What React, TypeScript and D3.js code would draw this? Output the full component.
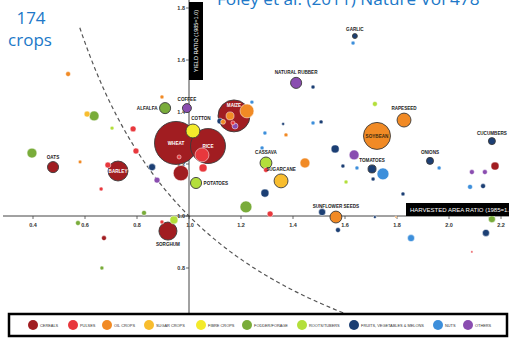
import React from "react";
import * as d3 from "d3";

type Pt = [number, number, number, string];

const categoryNames = [
  "CEREALS", "PULSES", "OIL CROPS", "SUGAR CROPS", "FIBRE CROPS",
  "FODDER/FORAGE", "ROOTS/TUBERS", "FRUITS, VEGETABLES & MELONS", "NUTS", "OTHERS",
];
const categoryColors = [
  "#a11d21", "#e8383d", "#f18a25", "#f8bd2e", "#f3ea2b",
  "#79ac3a", "#b3df3b", "#1c3f74", "#3d8fdb", "#8a4db0",
];

// [harvested area ratio, yield ratio, harvested area (Mha), label]
const cereals: Pt[] = [
  [0.95, 1.281, 210, "WHEAT"], [1.073, 1.269, 139, "RICE"], [1.173, 1.385, 116, "MAIZE"],
  [0.727, 1.173, 45, "BARLEY"], [0.919, 0.942, 37, "SORGHUM"], [0.477, 1.188, 14, "OATS"],
  [0.969, 1.165, 27, ""], [2.177, 1.192, 7.3, ""], [0.673, 0.915, 2.8, ""],
];
const pulses: Pt[] = [
  [1.05, 1.235, 22, ""], [1.054, 1.185, 7.3, ""], [0.962, 1.227, 1.8, ""], [0.785, 1.335, 4, ""],
  [0.796, 1.25, 4, ""], [0.688, 1.196, 4, ""], [0.662, 1.104, 1.8, ""], [0.896, 0.977, 1.8, ""],
  [1.296, 1.177, 2.8, ""], [1.312, 1.008, 4, ""], [1.169, 1.358, 1.8, ""], [2.088, 0.862, 0.5, ""],
];
const oilCrops: Pt[] = [
  [1.723, 1.308, 83, "SOYBEAN"], [1.827, 1.369, 22, "RAPESEED"], [1.565, 0.996, 16, "SUNFLOWER SEEDS"],
  [1.223, 1.404, 22, ""], [1.158, 1.385, 7.3, ""], [1.131, 1.362, 2.8, ""], [1.446, 1.204, 11, ""],
  [0.535, 1.546, 2.8, ""], [0.896, 1.458, 1.8, ""], [0.581, 1.208, 1.5, ""], [1.373, 1.312, 1.8, ""],
  [1.796, 0.996, 0.5, ""],
];
const sugarCrops: Pt[] = [[1.354, 1.135, 22, "SUGARCANE"], [0.608, 1.392, 4, ""]];
const fibreCrops: Pt[] = [[1.015, 1.327, 22, "COTTON"]];
const fodder: Pt[] = [
  [0.908, 1.415, 14, "ALFALFA"], [0.635, 1.385, 11, ""], [0.396, 1.242, 11, ""], [1.219, 1.035, 16, ""],
  [0.827, 1.012, 2.8, ""], [0.573, 0.973, 2.8, ""], [0.665, 0.8, 1.8, ""], [2.165, 0.988, 5.6, ""],
];
const rootsTubers: Pt[] = [
  [1.027, 1.127, 14, "POTATOES"], [1.296, 1.204, 16, "CASSAVA"], [0.942, 0.985, 7.3, ""],
  [0.704, 1.338, 1.8, ""], [1.715, 1.431, 2.8, ""], [1.604, 1.131, 1.8, ""],
];
const fruitsVeg: Pt[] = [
  [1.638, 1.692, 2.8, "GARLIC"], [2.165, 1.288, 5.6, "CUCUMBERS"], [1.927, 1.212, 5.6, "ONIONS"],
  [1.704, 1.181, 7.3, "TOMATOES"], [0.858, 1.188, 5.6, ""], [1.119, 1.365, 4, ""], [1.477, 1.496, 1.8, ""],
  [1.362, 1.354, 1, ""], [1.508, 1.362, 1.8, ""], [1.562, 1.258, 7.3, ""], [1.592, 1.192, 1.8, ""],
  [1.708, 1.142, 1.8, ""], [2.131, 1.115, 2.8, ""], [1.292, 1.088, 7.3, ""], [1.823, 1.085, 1.8, ""],
  [1.512, 1.015, 5.6, ""], [1.715, 0.996, 1, ""], [1.573, 0.946, 2.8, ""], [2.142, 0.935, 5.6, ""],
];
const nuts: Pt[] = [
  [1.746, 1.162, 16, ""], [1.631, 1.665, 1.8, ""], [1.242, 1.438, 1.8, ""], [1.292, 1.319, 1.8, ""],
  [1.281, 1.262, 1.8, ""], [1.477, 1.358, 1.8, ""], [1.646, 1.185, 1.8, ""], [1.962, 1.185, 1.8, ""],
  [2.081, 1.112, 2.8, ""], [1.854, 0.915, 5.6, ""],
];
const others: Pt[] = [
  [0.992, 1.415, 9.2, "COFFEE"], [1.412, 1.512, 14, "NATURAL RUBBER"], [1.635, 1.235, 11, ""],
  [0.877, 1.138, 4, ""], [1.177, 1.346, 4, ""], [2.088, 1.169, 2.8, ""], [2.138, 1.169, 2.8, ""],
];
const seriesByCategory = [cereals, pulses, oilCrops, sugarCrops, fibreCrops, fodder, rootsTubers, fruitsVeg, nuts, others];

const xTicks = [0.4, 0.6, 0.8, 1.0, 1.2, 1.4, 1.6, 1.8, 2.0, 2.2];
const yTicks = [0.8, 1.0, 1.2, 1.4, 1.6, 1.8];
const titleText = "Foley et al. (2011) Nature Vol 478";
const cropCountText = ["174", "crops"];
const xLabel = "HARVESTED AREA RATIO (1985=1.0)";
const yLabel = "YIELD RATIO (1985=1.0)";

const W = 509, H = 338;

export default function App() {
  const x = d3.scaleLinear().domain([1, 2]).range([189, 449]);
  const y = d3.scaleLinear().domain([1, 2]).range([216, -44]);
  const r = d3.scaleSqrt().domain([0, 220]).range([0, 22]);

  const placement: Record<string, string> = {
    WHEAT: "inside", RICE: "inside", MAIZE: "insideTop", BARLEY: "inside", SOYBEAN: "insideDark",
    SORGHUM: "below", ALFALFA: "left", POTATOES: "right", COTTON: "aboveRight",
  };

  const pts = seriesByCategory.flatMap((s, ci) =>
    s.map(([hx, yr, area, label]) => ({ hx, yr, area, label, ci }))
  );
  const sorted = [...pts].sort((a, b) => b.area - a.area);

  const curve = d3.line<number>().x((v) => x(v)).y((v) => y(1 / v));
  const curveXs = d3.range(0.58, 1.75, 0.01);

  const legendX = [33, 73, 107, 149, 201, 247, 302, 354, 438, 468];
  const lf = "'Liberation Sans', Arial, sans-serif";

  return (
    <svg width={W} height={H} style={{ position: "absolute", left: 0, top: 0, background: "#fff" }}>
      <rect x={0} y={0} width={W} height={H} fill="#fff" />
      {/* title */}
      <text x={217} y={5} fontFamily="'Open Sans', sans-serif" fontSize={17.2} fill="#2078c8">{titleText}</text>
      <text x={31} y={24} textAnchor="middle" fontFamily="'Open Sans', sans-serif" fontSize={17} fill="#2078c8">{cropCountText[0]}</text>
      <text x={30} y={46} textAnchor="middle" fontFamily="'Open Sans', sans-serif" fontSize={17} fill="#2078c8">{cropCountText[1]}</text>

      {/* iso-production line */}
      <path d={curve(curveXs) || ""} fill="none" stroke="#555" strokeWidth={1.2} strokeDasharray="4,3" />

      {/* axes */}
      <line x1={3} x2={W} y1={y(1)} y2={y(1)} stroke="#444" strokeWidth={1} />
      <line x1={x(1)} x2={x(1)} y1={0} y2={313} stroke="#444" strokeWidth={1} />
      {xTicks.map((t) => (
        <g key={"x" + t}>
          <line x1={x(t)} x2={x(t)} y1={y(1)} y2={y(1) + 3} stroke="#444" strokeWidth={0.8} />
          <text x={x(t) - (t === 1 ? -1 : 0)} y={y(1) + 11} textAnchor="middle" fontFamily={lf} fontWeight="bold" fontSize={5.5} fill="#333">{t.toFixed(1)}</text>
        </g>
      ))}
      {yTicks.map((t) => (
        <g key={"y" + t}>
          <line x1={x(1) - 3} x2={x(1)} y1={y(t)} y2={y(t)} stroke="#444" strokeWidth={0.8} />
          <text x={x(1) - 4} y={y(t) + 2} textAnchor="end" fontFamily={lf} fontWeight="bold" fontSize={5.5} fill="#333">{t.toFixed(1)}</text>
        </g>
      ))}

      {/* bubbles */}
      {sorted.map((p, i) => {
        const cx = x(p.hx), cy = y(p.yr), rr = Math.max(r(p.area), 1);
        return (
          <circle key={i} cx={cx} cy={cy} r={rr} fill={categoryColors[p.ci]}
            stroke={p.label ? "#3a3a3a" : "#fff"} strokeWidth={p.label ? 0.9 : 0.5} />
        );
      })}
      {/* labels */}
      {pts.filter((p) => p.label).map((p, i) => {
        const cx = x(p.hx), cy = y(p.yr), rr = r(p.area);
        const pl = placement[p.label] || "above";
        let tx = cx, ty = cy - rr - 3, anchor = "middle", fill = "#222";
        if (pl === "inside") { ty = cy + 1.6; fill = "#fff"; }
        if (pl === "insideDark") { ty = cy + 1.6; fill = "#3a2a10"; }
        if (pl === "insideTop") { ty = cy - rr + 7; fill = "#fff"; }
        if (pl === "below") { ty = cy + rr + 6; }
        if (pl === "left") { tx = cx - rr - 2; ty = cy + 1.6; anchor = "end"; }
        if (pl === "right") { tx = cx + rr + 2; ty = cy + 1.6; anchor = "start"; }
        if (pl === "aboveRight") { tx = cx + 8; ty = cy - rr - 4; }
        return (
          <text key={i} x={tx} y={ty} textAnchor={anchor} fontFamily={lf} fontWeight="bold" fontSize={4.6} fill={fill}>{p.label}</text>
        );
      })}

      {/* axis title boxes */}
      <rect x={x(1)} y={2} width={14} height={78} fill="#000" />
      <text transform={`translate(${x(1) + 9},${41}) rotate(-90)`} textAnchor="middle" fontFamily={lf} fontSize={5.5} fill="#fff">{yLabel}</text>
      <rect x={406} y={203} width={103} height={13} fill="#000" />
      <text x={410} y={212} fontFamily={lf} fontSize={6} fill="#fff">{xLabel}</text>

      {/* legend */}
      <rect x={9} y={314} width={498} height={22} fill="#fff" stroke="#000" strokeWidth={2.5} />
      {categoryNames.map((n, i) => (
        <g key={n}>
          <circle cx={legendX[i]} cy={325} r={5} fill={categoryColors[i]} />
          <text x={legendX[i] + 7} y={326.5} fontFamily={lf} fontSize={3.9} fill="#333">{n}</text>
        </g>
      ))}
    </svg>
  );
}
